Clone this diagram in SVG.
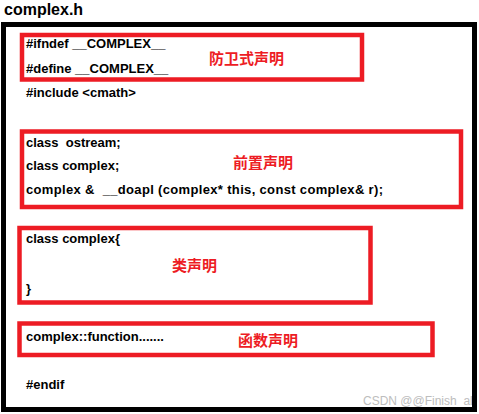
<svg xmlns="http://www.w3.org/2000/svg" width="479" height="414" viewBox="0 0 479 414">
<style>
.code{font-family:"Liberation Sans","Open Sans",sans-serif;font-weight:bold;font-size:13px;fill:#000}
.zh{font-family:"Noto Sans CJK SC",sans-serif;font-weight:bold;font-size:15px;fill:#ED1C24}
.box{fill:none;stroke:#ED1C24;stroke-width:4.5}
</style>
<rect width="479" height="414" fill="#fff"/>
<text x="4" y="15" font-family="Liberation Sans,sans-serif" font-weight="bold" font-size="16">complex.h</text>
<text x="363" y="405" font-family="Liberation Sans,sans-serif" font-size="12" fill="#bdbdbd">CSDN @@Finish_all</text>
<rect x="3.5" y="24.5" width="471" height="385" fill="none" stroke="#000" stroke-width="5"/>
<g id="guard">
<rect class="box" x="22" y="35" width="340" height="44.5"/>
<text class="code" x="26" y="48">#ifndef __COMPLEX__</text>
<text class="code" x="26" y="73">#define __COMPLEX__</text>
<text class="zh" x="209" y="64">防卫式声明</text>
</g>
<text class="code" x="26" y="97">#include &lt;cmath&gt;</text>
<g id="forward">
<rect class="box" x="22" y="131.5" width="439" height="75.5"/>
<text class="code" x="26" y="147" xml:space="preserve">class  ostream;</text>
<text class="code" x="26" y="170">class complex;</text>
<text class="code" x="26" y="194" xml:space="preserve" textLength="357" lengthAdjust="spacing">complex &amp;  __doapl (complex* this, const complex&amp; r);</text>
<text class="zh" x="233" y="168">前置声明</text>
</g>
<g id="classdecl">
<rect class="box" x="19.5" y="228" width="351" height="74.5"/>
<text class="code" x="26" y="243">class complex{</text>
<text class="code" x="26" y="293">}</text>
<text class="zh" x="172" y="271">类声明</text>
</g>
<g id="funcdecl">
<rect class="box" x="19.5" y="323.5" width="413" height="31.5"/>
<text class="code" x="26" y="341">complex::function.......</text>
<text class="zh" x="238" y="346">函数声明</text>
</g>
<text class="code" x="26" y="389">#endif</text>
</svg>
